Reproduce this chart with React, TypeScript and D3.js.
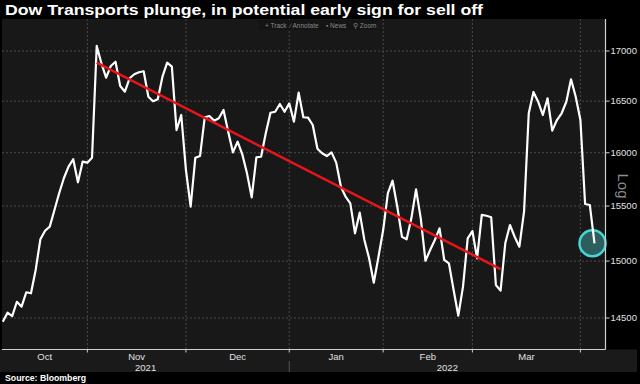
import React from 'react'
import * as d3 from 'd3'

// Dow Jones Transportation Average, daily closes (one point per trading day, Oct 6 2021 -> Apr 6 2022)
const closes = [
  14468, 14546, 14517, 14641, 14598, 14724, 14715, 14921, 15196, 15274,
  15311, 15464, 15619, 15759, 15868, 15938, 15721, 15915, 15906, 15953,
  17051, 16876, 16732, 16849, 16892, 16649, 16593, 16726, 16766, 16786,
  16796, 16543, 16498, 16518, 16742, 16882, 16842, 16218, 16364, 15836,
  15494, 15953, 15969, 16342, 16354, 16309, 16332, 16413, 16202, 16004,
  16106, 15985, 15805, 15581, 15957, 15962, 16187, 16386, 16396, 16472,
  16396, 16478, 16299, 16583, 16342, 16338, 16267, 16039, 15995, 15969,
  16004, 15906, 15680, 15587, 15525, 15250, 15439, 15190, 15025, 14808,
  15039, 15280, 15619, 15736, 15494, 15219, 15196, 15387, 15655, 15387,
  15003, 15099, 15190, 15296, 15010, 14980, 14744, 14520, 14773, 15205,
  15271, 15025, 15418, 15411, 15397, 14788, 14738, 15160, 15326, 15219,
  15129, 15448, 16381, 16590, 16494, 16364, 16528, 16212, 16315, 16381,
  16494, 16716, 16543, 16315, 15519, 15510, 15160,
]

// trading-day index where each month begins (last entry = Apr)
const months = ['Oct', 'Nov', 'Dec', 'Jan', 'Feb', 'Mar']
const monthStart = [0, 18, 39, 61, 81, 100, 123]
const years = ['2021', '2022']
const yearStart = [0, 61]
const yTicks = [14500, 15000, 15500, 16000, 16500, 17000]

// hand drawn trend line: [trading day index, level]
const trendIdx = [20, 106]
const trendVal = [16882, 14929]

const toolbar = ['+ Track', '\u2215 Annotate', '\u25AA News', '\u26B2 Zoom']

export default function App() {
  const W = 640
  const H = 384
  const left = 2, top = 19, right = 605.5, bottom = 349.5

  const x = d3.scaleLinear().domain([0, closes.length - 1]).range([2.8, 594.5])
  const y = d3.scaleLog().domain([14500, 17000]).range([318, 51])

  const line = d3.line<number>()
    .x((d, i) => x(i))
    .y(d => y(d))

  const last = closes.length - 1

  // month label centres
  const monthCenters = months.map((m, i) => {
    const a = i === 0 ? left : x(monthStart[i])
    const b = x(monthStart[i + 1])
    return (a + b) / 2
  })
  const yearCenters = years.map((yr, i) => {
    const a = i === 0 ? left : x(yearStart[i])
    const b = i === years.length - 1 ? right : x(yearStart[i + 1])
    return (a + b) / 2
  })

  const font = "'Liberation Sans', Arial, sans-serif"

  return (
    <svg width={W} height={H} style={{position: 'fixed', left: 0, top: 0, background: '#000'}}
      fontFamily={font}>
      <rect width={W} height={H} fill="#000" />

      <text x={5} y={14.5} fill="#fff" fontSize={15} fontWeight="bold"
        textLength={478} lengthAdjust="spacingAndGlyphs">
        Dow Transports plunge, in potential early sign for sell off
      </text>

      {/* plot panel */}
      <rect x={left} y={top} width={right - left} height={bottom - top} fill="#181818" />

      {/* axis band */}
      <rect x={0} y={bottom} width={637} height={372 - bottom} fill="#1a1a1a" />

      {/* horizontal grid */}
      {yTicks.map(t => (
        <line key={'h' + t} x1={left} x2={right} y1={y(t)} y2={y(t)}
          stroke="#4a4a4a" strokeWidth={1} strokeDasharray="2,2" />
      ))}
      {/* vertical grid at month starts */}
      {monthStart.slice(1).map(s => (
        <line key={'v' + s} x1={x(s)} x2={x(s)} y1={top} y2={bottom}
          stroke="#4a4a4a" strokeWidth={1} strokeDasharray="2,2" />
      ))}

      {/* toolbar */}
      <rect x={258} y={top + 1} width={119} height={10} fill="#141414" />
      {toolbar.map((t, i) => (
        <text key={t} x={[265, 290, 326, 353][i]} y={27.5} fontSize={6.5} fill="#8a8a8a">{t}</text>
      ))}

      {/* highlight circle */}
      <circle cx={x(last) - 2} cy={y(closes[last])} r={13} fill="#2d5e5e" stroke="#46d6d6" strokeWidth={2.5} />

      {/* index line */}
      <path d={line(closes) || ''} fill="none" stroke="#fff" strokeWidth={2.2} strokeLinejoin="round" />

      {/* trend line */}
      <line x1={x(trendIdx[0])} y1={y(trendVal[0])} x2={x(trendIdx[1])} y2={y(trendVal[1])}
        stroke="#e8141b" strokeWidth={2.5} />

      {/* panel border */}
      <line x1={right} x2={right} y1={top} y2={bottom} stroke="#d0d0d0" strokeWidth={1.2} />
      <line x1={left} x2={right} y1={bottom} y2={bottom} stroke="#d0d0d0" strokeWidth={1.2} />

      {/* right axis */}
      {yTicks.map(t => (
        <g key={'t' + t}>
          <line x1={right} x2={right + 4} y1={y(t)} y2={y(t)} stroke="#d0d0d0" strokeWidth={1} />
          <text x={right + 5} y={y(t) + 3.3} fontSize={9.5} fill="#e0e0e0">{t}</text>
        </g>
      ))}
      <text transform={`translate(618,186) rotate(90)`} textAnchor="middle" fontSize={15} fill="#8c8c8c">Log</text>

      {/* bottom axis */}
      {monthStart.slice(1).map(s => (
        <line key={'bt' + s} x1={x(s)} x2={x(s)} y1={bottom} y2={bottom + 3} stroke="#d0d0d0" strokeWidth={1} />
      ))}
      {months.map((m, i) => (
        <text key={m} x={monthCenters[i]} y={360} textAnchor="middle" fontSize={9.5} fill="#e0e0e0">{m}</text>
      ))}
      <line x1={x(yearStart[1])} x2={x(yearStart[1])} y1={361} y2={372} stroke="#555" strokeWidth={1} />
      {years.map((yr, i) => (
        <text key={yr} x={yearCenters[i]} y={370.5} textAnchor="middle" fontSize={9.5} fill="#e0e0e0">{yr}</text>
      ))}

      <text x={5} y={381} fontSize={8.5} fontWeight="bold" fill="#fff" textLength={81} lengthAdjust="spacingAndGlyphs">
        Source: Bloomberg
      </text>
    </svg>
  )
}
